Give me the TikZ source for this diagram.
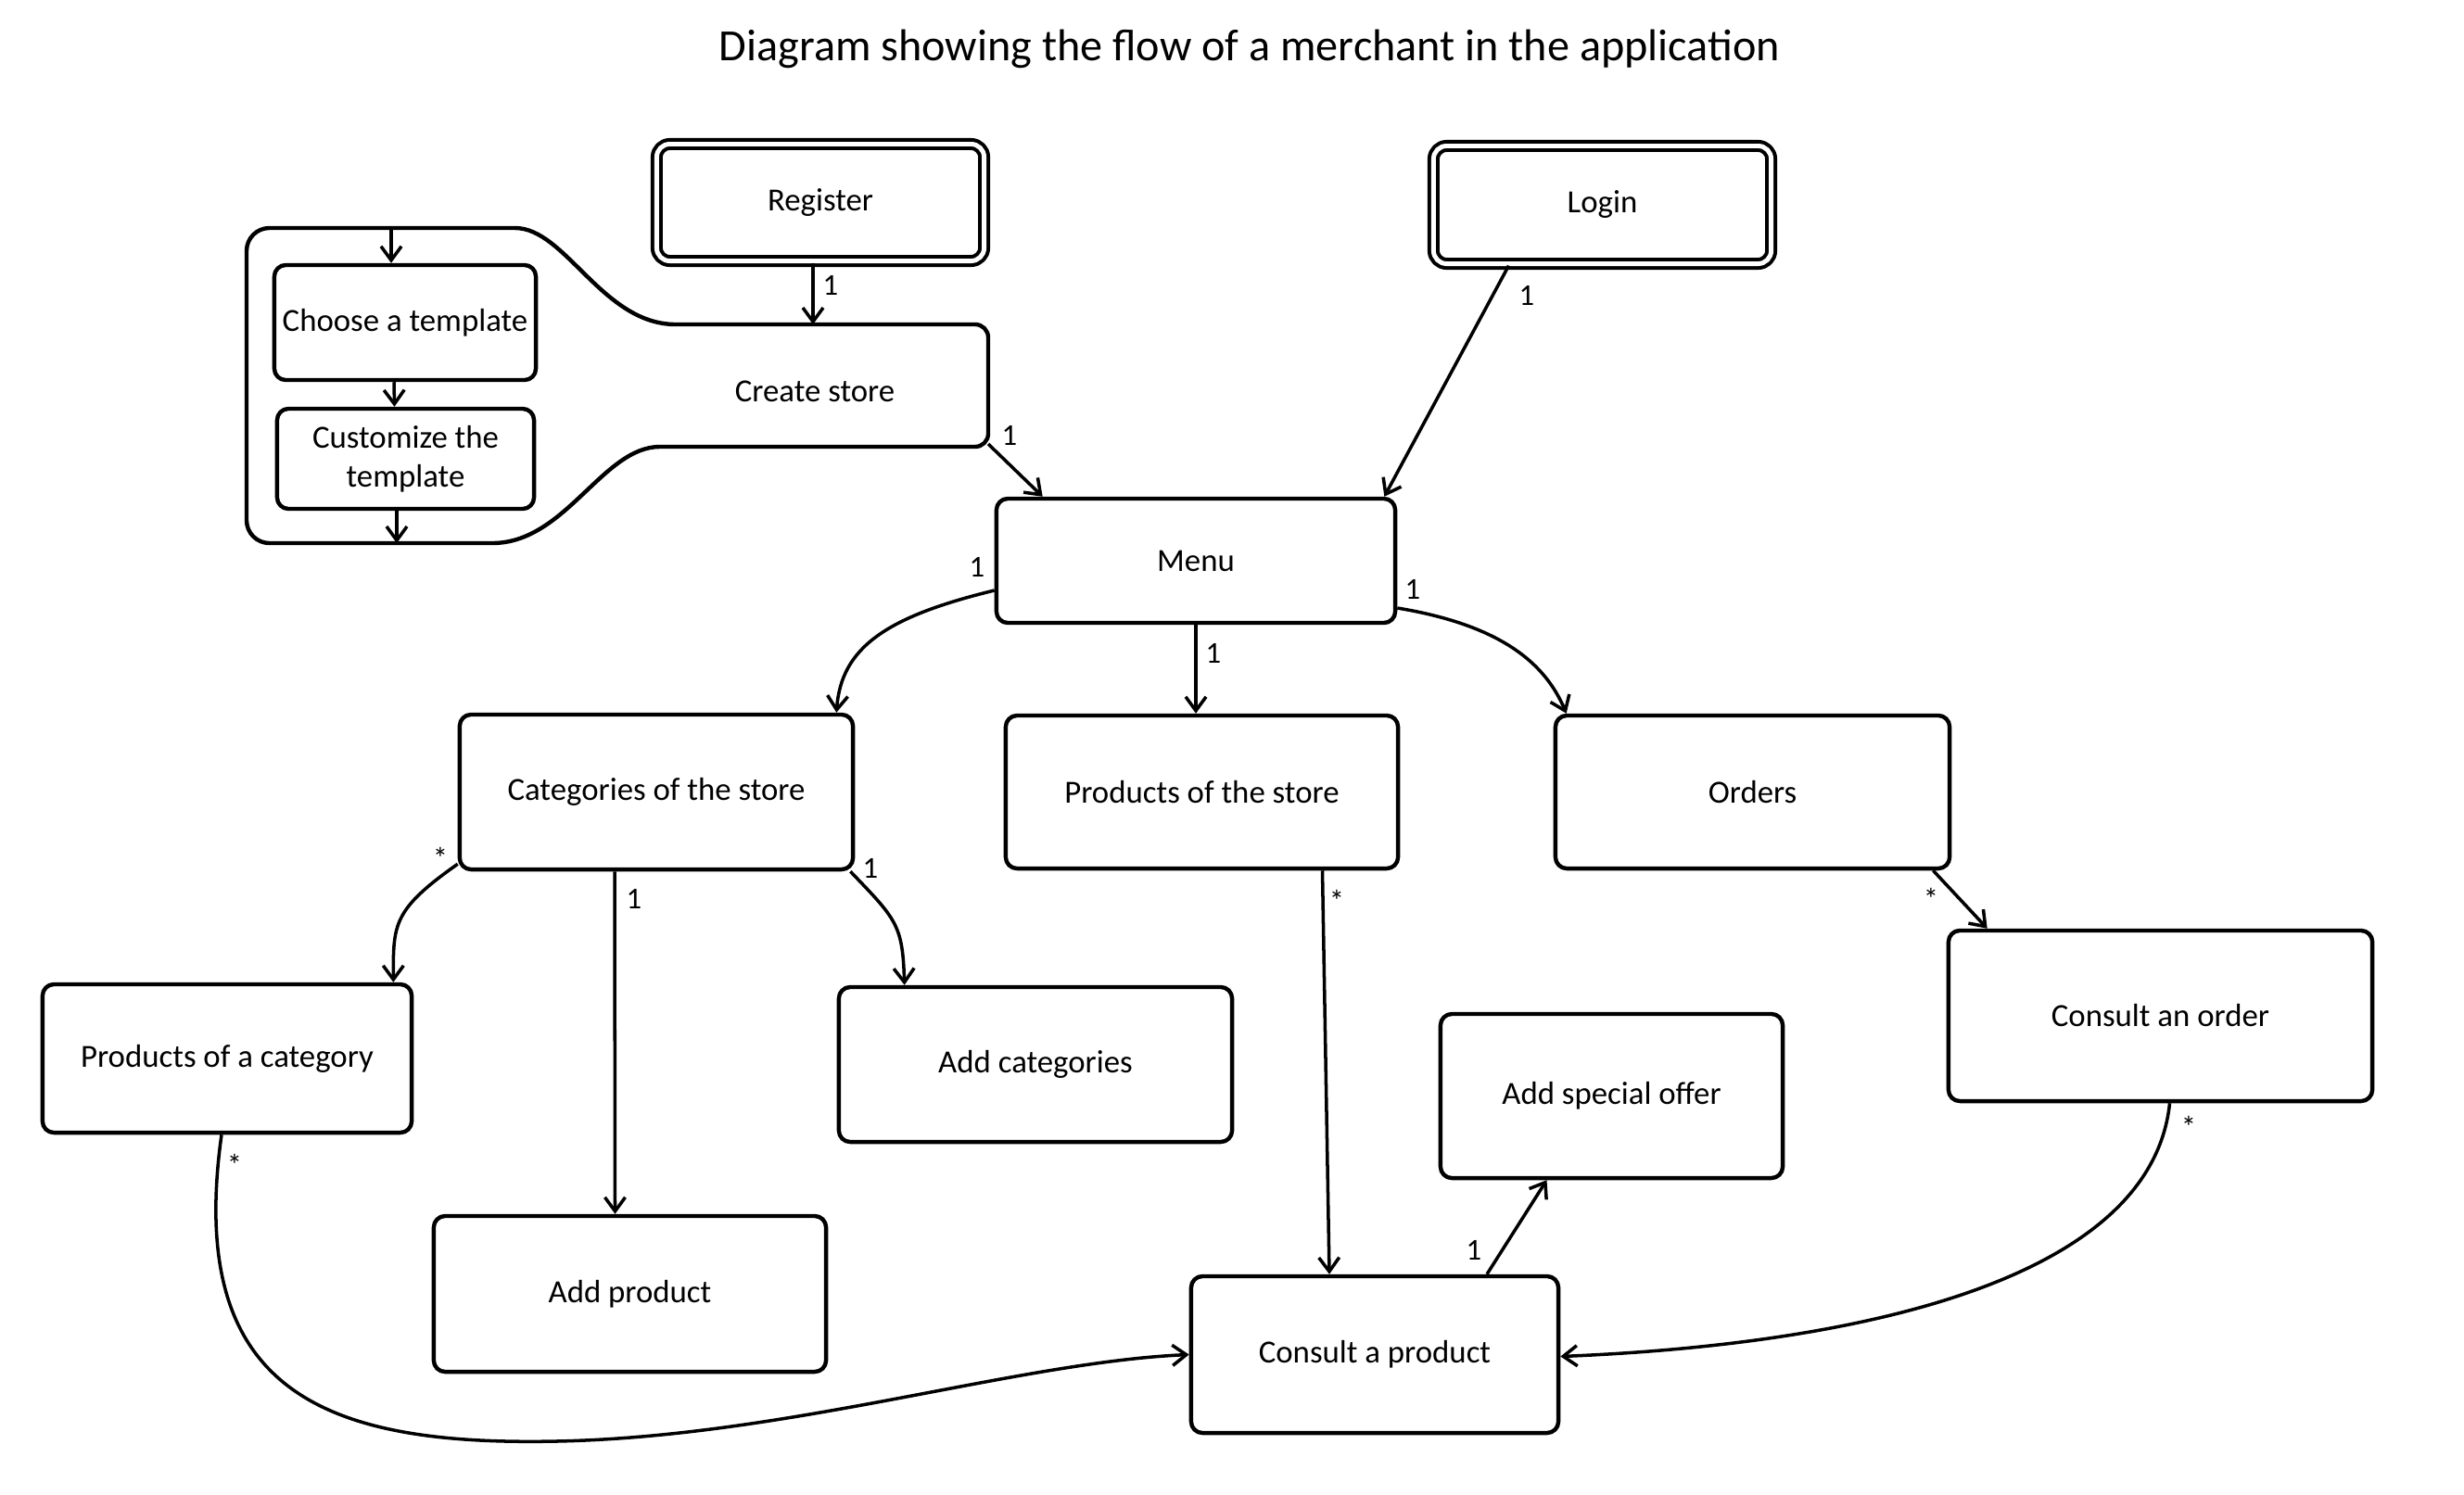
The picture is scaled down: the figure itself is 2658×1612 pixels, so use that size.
\documentclass[tikz,border=0pt]{standalone}
\usepackage{fontspec}
\setmainfont{Carlito}
\usetikzlibrary{arrows.meta,calc}
\begin{document}
\begin{tikzpicture}[
	x=0.01cm, y=-0.01cm,
	line join=round,
	>={Straight Barb[length=1.5mm,width=2.2mm]},
	hop/.style={draw, line width=1.25pt, rounded corners=3.5pt, inner sep=0pt, align=center, font=\fontsize{9.9}{11.9}\selectfont},
	hopkep/.style={hop, double, line width=1.15pt, double distance=1.4pt, rounded corners=4pt},
	noi/.style={->, line width=1pt},
	so/.style={font=\fontsize{9.3}{10}\selectfont, inner sep=0pt}
	]
	\useasboundingbox (0,0) rectangle (2658,1612);
	\node[font=\fontsize{13.7}{16}\selectfont] (title) at (1348,53) {Diagram showing the flow of a merchant in the application};
	% start
	\node[hopkep, minimum width=3.53cm, minimum height=1.26cm] (reg) at (885,218.5) {Register};
	\node[hopkep, minimum width=3.64cm, minimum height=1.27cm] (login) at (1728.5,221) {Login};
	% create store frame
	\draw[line width=1.25pt] (531,246) .. controls (610,246) and (650,350) .. (729,350)
		[rounded corners=4pt] -- (1066,350) -- (1066,482) -- (726,482)
		[sharp corners] .. controls (650,482) and (610,586) .. (531,586)
		[rounded corners=7pt] -- (266,586) -- (266,246) -- cycle;
	\node[font=\fontsize{9.9}{11.9}\selectfont] (store) at (879,422) {Create store};
	\node[hop, minimum width=2.82cm, minimum height=1.24cm] (choose) at (437,348) {Choose a template};
	\node[hop, minimum width=2.77cm, minimum height=1.08cm] (custom) at (437.5,495) {Customize the\\template};
	\coordinate (frameT) at (422,246);
	\coordinate (frameB) at (428,586);
	\coordinate (storeN) at (877,350);
	\coordinate (storeSE) at (1066,479);
	\draw[noi] (frameT) -- (frameT |- choose.north);
	\draw[noi] ($(choose.south)+(-12,0)$) -- ($(custom.north)+(-12,0)$);
	\draw[noi] (custom.south -| frameB) -- (frameB);
	% menu and below
	\node[hop, minimum width=4.30cm, minimum height=1.34cm] (menu) at (1290,605) {Menu};
	\node[hop, minimum width=4.24cm, minimum height=1.67cm] (cat) at (708,854.5) {Categories of the store};
	\node[hop, minimum width=4.23cm, minimum height=1.65cm] (prodstore) at (1296.5,854.5) {Products of the store};
	\node[hop, minimum width=4.25cm, minimum height=1.65cm] (orders) at (1890.5,854.5) {Orders};
	\node[hop, minimum width=3.98cm, minimum height=1.60cm] (prodcat) at (245,1142) {Products of a category};
	\node[hop, minimum width=4.24cm, minimum height=1.67cm] (addcat) at (1117,1148.5) {Add categories};
	\node[hop, minimum width=4.57cm, minimum height=1.84cm] (order) at (2330.5,1096) {Consult an order};
	\node[hop, minimum width=3.69cm, minimum height=1.77cm] (offer) at (1738.5,1182.5) {Add special offer};
	\node[hop, minimum width=4.23cm, minimum height=1.68cm] (addprod) at (679.5,1396) {Add product};
	\node[hop, minimum width=3.96cm, minimum height=1.69cm] (product) at (1483,1461.5) {Consult a product};
	\coordinate (bend) at (600,1555);
	% connectors
	\draw[noi] (reg.south -| storeN) -- (storeN);
	\draw[noi] (storeSE) -- ($(menu.north west)+(52,0)$);
	\draw[noi] ($(login.south)+(-101,0)$) -- ($(menu.north east)+(-14,0)$);
	\draw[noi] ($(menu.west)+(0,32)$) .. controls +(-115,28) and +(5,-71) .. ($(cat.north east)+(-20,0)$);
	\draw[noi] (menu.south) -- (menu.south |- prodstore.north);
	\draw[noi] ($(menu.east)+(0,51)$) .. controls +(115,19) and +(-22,-52) .. ($(orders.north west)+(14,0)$);
	\draw[noi] ($(cat.south west)+(0,-8)$) .. controls +(-71,50) and +(0,-62) .. ($(prodcat.north east)+(-22,0)$);
	\draw[noi] ($(cat.south)+(-45,0)$) -- ($(addprod.north)+(-16,0)$);
	\draw[noi] ($(cat.south east)+(-5,0)$) .. controls +(50,52) and +(-2,-65) .. ($(addcat.north west)+(73,0)$);
	\draw[noi] ($(prodstore.south)+(130,0)$) -- ($(product.north)+(-49,0)$);
	\draw[noi] ($(orders.south east)+(-20,0)$) -- ($(order.north west)+(44,0)$);
	\draw[noi] ($(product.north)+(121,0)$) -- ($(offer.south)+(-70,0)$);
	\draw[noi] ($(order.south)+(10,0)$) .. controls +(-20,192) and +(319,-13) .. ($(product.east)+(0,2)$);
	\draw[noi] ($(prodcat.south)+(-6,0)$) .. controls +(-39,278) and +(-250,5) .. (bend)
		.. controls +(250,-5) and +(-185,8) .. (product.west);
	% multiplicities
	\node[so] (r1) at (896,308) {1};
	\node[so] (s1) at (1089,470) {1};
	\node[so] (g1) at (1647,319) {1};
	\node[so] (m1) at (1054,612) {1};
	\node[so] (m2) at (1309,705) {1};
	\node[so] (m3) at (1524,636) {1};
	\node[so] (c1) at (475,926) {*};
	\node[so] (c2) at (684,970) {1};
	\node[so] (c3) at (939,937) {1};
	\node[so] (p1) at (1442,972) {*};
	\node[so] (o1) at (2083,970) {*};
	\node[so] (pc) at (253,1257) {*};
	\node[so] (oc) at (2361,1216) {*};
	\node[so] (f1) at (1590,1349) {1};
\end{tikzpicture}
\end{document}
